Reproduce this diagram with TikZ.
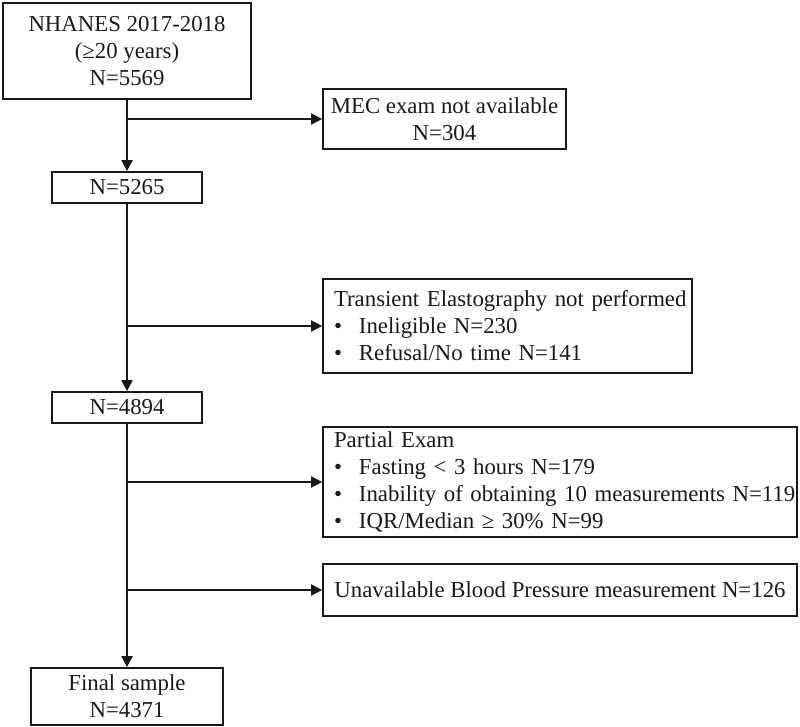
\documentclass[tikz,border=0pt]{standalone}
\usepackage{fontspec}
\setmainfont{Liberation Serif}
\usetikzlibrary{arrows.meta}
\newcommand\bul{\makebox[25pt][l]{\textbullet}}
\begin{document}
\begin{tikzpicture}[x=1pt,y=-1pt,
  box/.style={draw=black!90, line width=1.7pt, inner sep=0pt, align=center,
    font=\fontsize{22.8}{27}\selectfont, text=black!90},
  listbox/.style={box, align=left, inner xsep=11pt},
  arr/.style={draw=black!90, line width=2pt, -{Triangle[length=11pt,width=11pt]}},
  ln/.style={draw=black!90, line width=2pt}]
\useasboundingbox (0,0) rectangle (800,727);
\node[box, minimum width=248pt, minimum height=96pt] (top) at (127,51)
  {NHANES 2017-2018\\(≥20 years)\\N=5569};
\node[box, minimum width=243pt, minimum height=60pt] (mec) at (444.5,119)
  {MEC exam not available\\N=304};
\node[box, minimum width=150pt, minimum height=31pt] (n1) at (127,187.5) {N=5265};
\node[listbox, minimum width=369pt, minimum height=94pt, text width=347pt] (te) at (507.5,326)
  {\mbox{Transient Elastography not performed}\\\mbox{\bul Ineligible N=230}\\\mbox{\bul Refusal/No time N=141}};
\node[box, minimum width=150pt, minimum height=31pt] (n2) at (127,407.5) {N=4894};
\node[listbox, minimum width=474pt, minimum height=110pt, text width=452pt] (pe) at (560,482)
  {\mbox{Partial Exam}\\\mbox{\bul Fasting < 3 hours N=179}\\\mbox{\bul Inability of obtaining 10 measurements N=119}\\\mbox{\bul IQR/Median ≥ 30\% N=99}};
\node[box, minimum width=474pt, minimum height=52pt] (bp) at (560,590)
  {Unavailable Blood Pressure measurement N=126};
\node[box, minimum width=192pt, minimum height=57pt] (fin) at (127,696.5)
  {Final sample\\N=4371};
\coordinate (b1) at (127,119);
\coordinate (b2) at (127,326);
\coordinate (b3) at (127,482);
\coordinate (b4) at (127,590);
\draw[arr] (top) -- (n1);
\draw[arr] (b1) -- (b1 -| mec.west);
\draw[arr] (n1) -- (n2);
\draw[arr] (b2) -- (b2 -| te.west);
\draw[arr] (n2) -- (fin);
\draw[arr] (b3) -- (b3 -| pe.west);
\draw[arr] (b4) -- (b4 -| bp.west);
\end{tikzpicture}
\end{document}
